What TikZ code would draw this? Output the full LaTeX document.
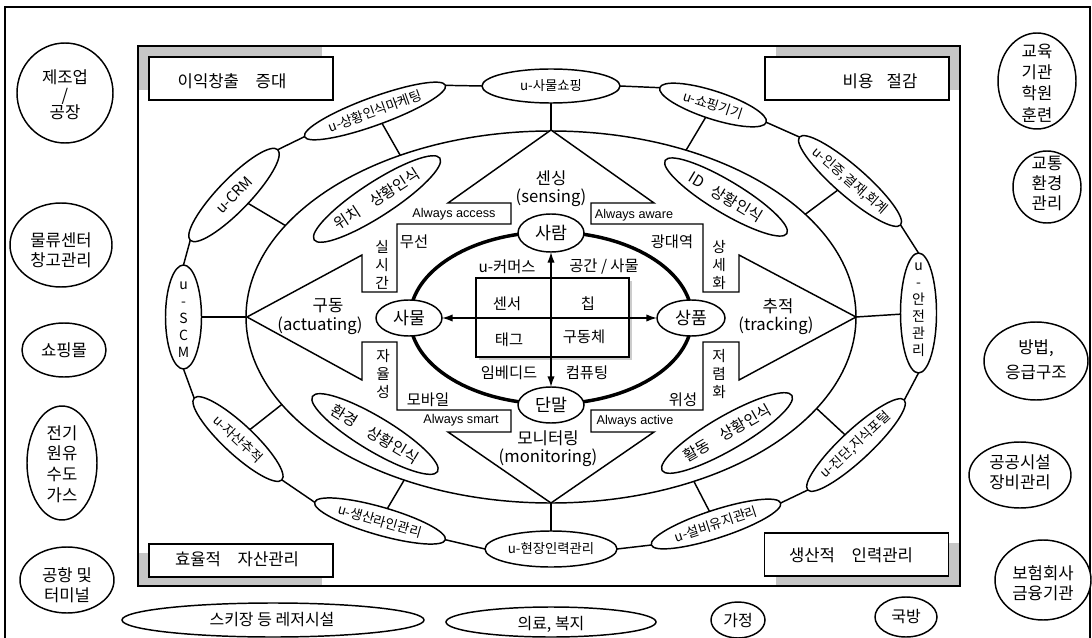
\documentclass[tikz,border=0pt]{standalone}
\usepackage{fontspec}
\setmainfont{Noto Sans CJK KR}
\newfontfamily\latf{Liberation Sans}
\usetikzlibrary{shapes.geometric,arrows.meta}
\begin{document}
\begin{tikzpicture}[x=0.75pt,y=-0.75pt,line join=miter,
 ln/.style={line width=1.1pt},
 el/.style n args={2}{ellipse, draw, fill=white, line width=1.1pt, inner sep=0pt, outer sep=0pt, minimum width=#1*1.5pt, minimum height=#2*1.5pt},
 tx/.style={inner sep=0pt, align=center},
 big/.style={tx, font=\fontsize{12.5}{15}\selectfont},
 mid/.style={tx, font=\fontsize{11.5}{13.5}\selectfont},
 sml/.style={tx, font=\fontsize{10}{12.6}\selectfont},
 eng/.style={tx, font=\latf\fontsize{9.5}{11}\selectfont},
 cbox/.style={draw, fill=white, line width=1.1pt, inner sep=0pt, minimum width=184*0.75pt, minimum height=43*0.75pt},
 shade/.style={fill=gray!45},
 arr/.style={line width=1.1pt, {Latex[length=8pt,width=5.5pt]}-{Latex[length=8pt,width=5.5pt]}},
]
\useasboundingbox (0,0) rectangle (1092,638);
% outer frame
\draw[ln] (5,645) -- (5,7) -- (1090,7) -- (1090,645);
% corner shadows
\fill[shade] (138,46) rectangle (322,90);
\fill[shade] (776,46) rectangle (960,90);
\fill[shade] (138,553) rectangle (322,586);
\fill[shade] (776,543) rectangle (960,586);
% inner frame
\draw[ln] (138,46) rectangle (960,586);
% corner boxes
\node[cbox] (bTL) at (241,78.5) {};
\node[big] (tTL) at (232,81) {이익창출\hspace{1em}증대};
\node[cbox] (bTR) at (857,78.5) {};
\node[big] (tTR) at (880,81) {비용\hspace{0.8em}절감};
\node[cbox, minimum height=33*0.75pt] (bBL) at (241,560.5) {};
\node[big] (tBL) at (237,559) {효율적\hspace{1em}자산관리};
\node[cbox] (bBR) at (856.5,554.5) {};
\node[big] (tBR) at (851,555) {생산적\hspace{1em}인력관리};

% big ring
\node[ellipse, draw, line width=1.1pt, inner sep=0pt, outer sep=0pt, minimum width=610*0.75pt, minimum height=372*0.75pt] (ring) at (551,317) {};

% outer ring ellipses
\node[el={75}{14}, rotate=20] (mkt) at (375,111) {};
\node[sml, rotate=20] (tmkt) at (mkt) {u-상황인식마케팅};
\node[el={63}{16}, rotate=46] (ucrm) at (234,195) {};
\node[sml, font=\fontsize{11}{13}\selectfont, rotate=46] (tucrm) at (ucrm) {u-CRM};
\node[el={18}{52}] (uscm) at (183.5,317) {};
\node[sml, font=\fontsize{10.5}{12.8}\selectfont] (tuscm) at (183.5,320) {u\\-\\S\\C\\M};
\node[el={60}{15}, rotate=-43] (asset) at (238,439) {};
\node[sml, rotate=-43] (tasset) at (asset) {u-자산추적};
\node[el={68}{14}, rotate=-16] (prod) at (380,521) {};
\node[sml, rotate=-16] (tprod) at (prod) {u-생산라인관리};
\node[el={66}{18}] (field) at (551,549) {};
\node[sml] (tfield) at (field) {u-현장인력관리};
\node[el={68}{14}, rotate=18] (facil) at (716,524) {};
\node[sml, rotate=18] (tfacil) at (facil) {u-설비유지관리};
\node[el={66}{15}, rotate=43] (diag) at (856,445) {};
\node[sml, rotate=43] (tdiag) at (diag) {u-진단,지식포털};
\node[el={18}{60}] (safe) at (918.5,313) {};
\node[sml, font=\fontsize{10.5}{12.8}\selectfont] (tsafe) at (918.5,310) {u\\-\\안\\전\\관\\리};
\node[el={67}{15}, rotate=-41] (auth) at (850,181) {};
\node[sml, rotate=-41] (tauth) at (auth) {u-인증,결재,회계};
\node[el={56}{14}, rotate=-18] (sdev) at (713,105) {};
\node[sml, rotate=-18] (tsdev) at (sdev) {u-쇼핑기기};
\node[el={69}{17}] (shop) at (551,86) {};
\node[sml] (tshop) at (shop) {u-사물쇼핑};

% ring connectors
\draw[ln] (ring.133) -- (mkt);
\draw[ln] (ring.161) -- (ucrm);
\draw[ln] (ring.180) -- (uscm);
\draw[ln] (ring.198) -- (asset);
\draw[ln] (ring.228) -- (prod);
\draw[ln] (ring.270) -- (field);
\draw[ln] (ring.311) -- (facil);
\draw[ln] (ring.341) -- (diag);
\draw[ln] (ring.0) -- (safe);
\draw[ln] (ring.22) -- (auth);
\draw[ln] (ring.51) -- (sdev);
\draw[ln] (ring.90) -- (shop);
% links between outer ellipses
\draw[ln] (mkt.west) -- (ucrm.east);
\draw[ln] (mkt.east) -- (shop.west);
\draw[ln] (shop.east) -- (sdev.west);
\draw[ln] (sdev.east) -- (auth.west);
\draw[ln] (auth.east) -- (safe.north);
\draw[ln] (safe.south) -- (diag.east);
\draw[ln] (diag.west) -- (facil.east);
\draw[ln] (facil.west) -- (field.east);
\draw[ln] (field.west) -- (prod.east);
\draw[ln] (prod.west) -- (asset.east);
\draw[ln] (asset.west) -- (uscm.south);
\draw[ln] (uscm.north) -- (ucrm.west);

% cross of four arrows
\draw[ln, fill=white] (551,130) -- (654,203) -- (591,203) -- (591,224) -- (703,224) -- (703,292) -- (739,292) -- (739,255) -- (856,317) -- (739,380) -- (739,342) -- (703,342) -- (703,410) -- (591,410) -- (591,432) -- (654,432) -- (551,503) -- (448,432) -- (511,432) -- (511,410) -- (397,410) -- (397,342) -- (362,342) -- (362,380) -- (247,317) -- (362,255) -- (362,292) -- (397,292) -- (397,224) -- (511,224) -- (511,203) -- (448,203) -- cycle;

% inner ellipses
\node[el={75}{17}, rotate=33] (loc) at (377,199) {};
\node[mid, rotate=33] (tloc) at (loc) {위치\hspace{0.9em}상황인식};
\node[el={71}{16}, rotate=-31] (idc) at (726,197) {};
\node[mid, rotate=-31] (tidc) at (idc) {ID\hspace{0.7em}상황인식};
\node[el={73}{17}, rotate=-31] (env) at (375,434) {};
\node[mid, rotate=-31] (tenv) at (env) {환경\hspace{0.9em}상황인식};
\node[el={75}{17}, rotate=30] (act) at (727,433) {};
\node[mid, rotate=30] (tact) at (act) {활동\hspace{0.9em}상황인식};

% thick core ellipse
\node[ellipse, draw, line width=2.6pt, inner sep=0pt, minimum width=282*0.75pt, minimum height=172*0.75pt] (core) at (551,318) {};

% center box
\fill[gray!40] (479,281) rectangle (632,360);
\node[draw, fill=white, line width=1.1pt, inner sep=0pt, minimum width=153*0.75pt, minimum height=79*0.75pt] (cbx) at (552.5,317.5) {};
\node[mid] (tsen) at (507,304) {센서};
\node[mid] (tchip) at (588,304) {칩};
\node[mid] (ttag) at (509,340) {태그};
\node[mid] (tact2) at (584,337) {구동체};

% small center nodes
\node[el={33}{19}, font=\fontsize{13}{15}\selectfont] (person) at (551,233) {사람};
\node[el={33}{18}, font=\fontsize{13}{15}\selectfont] (thing) at (409,318) {사물};
\node[el={34}{18}, font=\fontsize{13}{15}\selectfont] (goods) at (691,318) {상품};
\node[el={33}{18}, font=\fontsize{13}{15}\selectfont] (term) at (551,405) {단말};
\draw[arr] (person) -- (term);
\draw[arr] (thing) -- (goods);

% texts inside core
\node[mid] (tuc) at (507,267) {u-커머스};
\node[mid] (tsp) at (604,267) {공간 / 사물};
\node[mid] (temb) at (509,373) {임베디드};
\node[mid] (tcomp) at (587,373) {컴퓨팅};

% texts around cross
\node[eng] (aac) at (454,214) {Always access};
\node[eng] (aaw) at (634,215) {Always aware};
\node[eng] (asm) at (461,420) {Always smart};
\node[eng] (aat) at (635,421) {Always active};
\node[mid] (twl) at (414,242) {무선};
\node[mid] (tbb) at (672,242) {광대역};
\node[mid] (tmob) at (428,400) {모바일};
\node[mid] (tsat) at (683,400) {위성};
\node[mid, font=\fontsize{11}{13.5}\selectfont] (trt) at (382,265) {실\\시\\간};
\node[mid, font=\fontsize{11}{13.5}\selectfont] (tdt) at (719,265) {상\\세\\화};
\node[mid, font=\fontsize{11}{13.5}\selectfont] (tau) at (383,374) {자\\율\\성};
\node[mid, font=\fontsize{11}{13.5}\selectfont] (tlc) at (719,374) {저\\렴\\화};

\node[big] (tsn1) at (551,178) {센싱};
\node[big] (tsn2) at (551,198) {(sensing)};
\node[big] (tac1) at (328,306) {구동};
\node[big] (tac2) at (320,326) {(actuating)};
\node[big] (ttr1) at (778,306) {추적};
\node[big] (ttr2) at (776,326) {(tracking)};
\node[big] (tmo1) at (548,438) {모니터링};
\node[big] (tmo2) at (548,458) {(monitoring)};

% left column
\node[el={48}{50}] (mfg) at (65,93) {};
\node[big, font=\fontsize{12.5}{13}\selectfont] (tmfg) at (65,95) {제조업\\/\\공장};
\node[el={51}{42}] (logi) at (61,245) {};
\node[big] (tlogi) at (61,250) {물류센터\\창고관리};
\node[el={42}{27}] (mall) at (64,350) {};
\node[big] (tmall) at (mall) {쇼핑몰};
\node[el={35}{57}] (util) at (62,463) {};
\node[big, font=\fontsize{12.5}{15.5}\selectfont] (tutil) at (62,464) {전기\\원유\\수도\\가스};
\node[el={47}{33}] (air) at (67,580) {};
\node[big] (tair) at (67,585) {공항 및\\터미널};
% right column
\node[el={39}{48}] (edu) at (1037,81) {};
\node[big, font=\fontsize{12.5}{16}\selectfont] (tedu) at (1037,83) {교육\\기관\\학원\\훈련};
\node[el={34}{36}] (traf) at (1047,187) {};
\node[big] (ttraf) at (1047,183) {교통\\환경\\관리};
\node[el={52}{39}] (crime) at (1036,361) {};
\node[big, font=\fontsize{12.5}{18.5}\selectfont] (tcrime) at (1036,360) {방법,\\응급구조};
\node[el={51}{33}] (pub) at (1020,475) {};
\node[big] (tpub) at (1020,472) {공공시설\\장비관리};
\node[el={48}{40}] (ins) at (1043,580) {};
\node[big] (tins) at (1043,583) {보험회사\\금융기관};
% bottom row
\node[el={151}{17}] (ski) at (273,620) {};
\node[big, font=\fontsize{12}{14}\selectfont] (tski) at (272,620) {스키장 등 레저시설};
\node[el={105}{15}] (med) at (551,622) {};
\node[big, font=\fontsize{12}{14}\selectfont] (tmed) at (551,624) {의료, 복지};
\node[el={27}{18}] (home) at (738,620) {};
\node[big, font=\fontsize{12}{14}\selectfont] (thome) at (home) {가정};
\node[el={31}{20}] (def) at (906,617) {};
\node[big, font=\fontsize{12}{14}\selectfont] (tdef) at (def) {국방};
\end{tikzpicture}
\end{document}
